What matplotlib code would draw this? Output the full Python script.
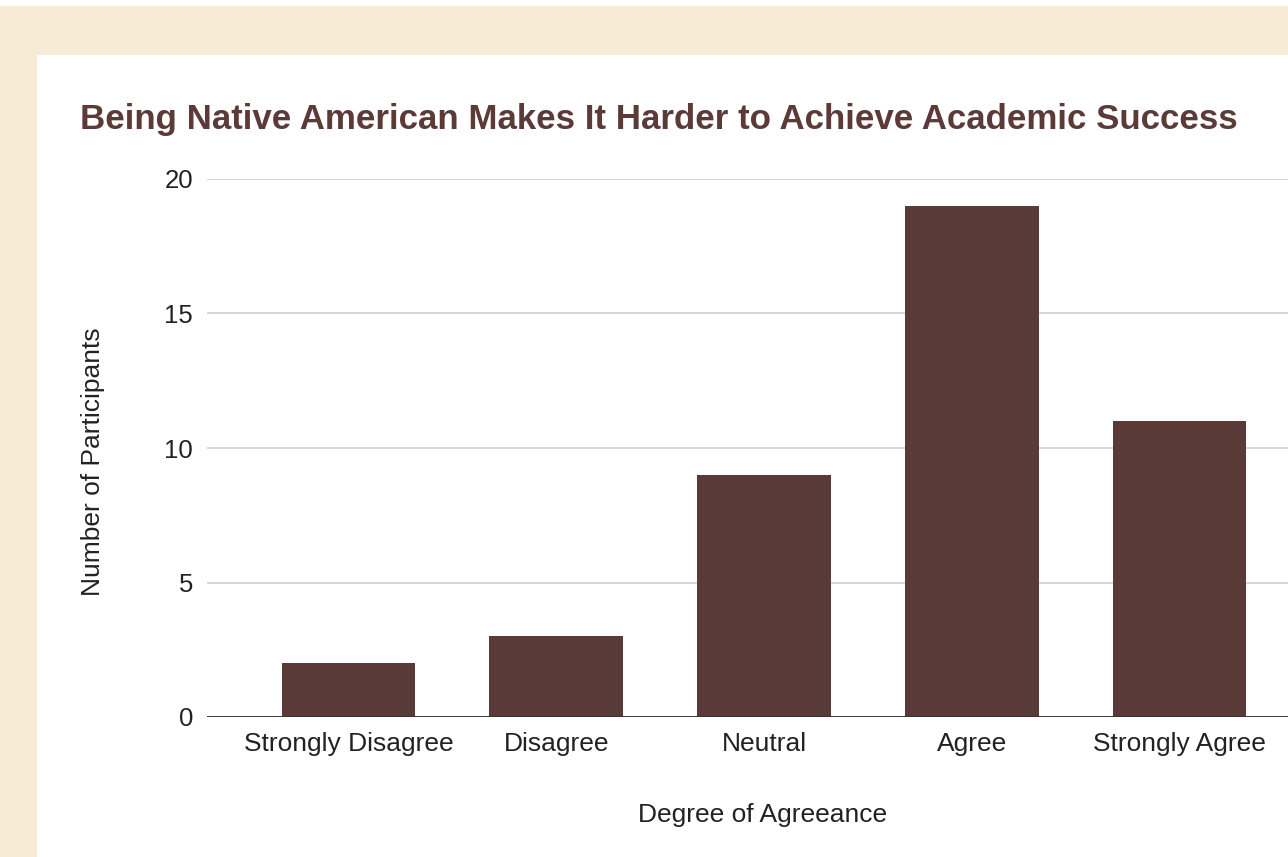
import matplotlib
matplotlib.use("Agg")
import matplotlib.pyplot as plt
from matplotlib.patches import Rectangle

categories = ["Strongly Disagree", "Disagree", "Neutral", "Agree", "Strongly Agree"]
participants = [2, 3, 9, 19, 11]
y_ticks = [0, 5, 10, 15, 20]

title = "Being Native American Makes It Harder to Achieve Academic Success"
x_label = "Degree of Agreeance"
y_label = "Number of Participants"

W, H = 1288, 857
plt.rcParams['font.family'] = ['Liberation Sans', 'DejaVu Sans']
fig = plt.figure(figsize=(W / 100, H / 100), dpi=100)
fig.patch.set_facecolor("#F8EBD6")

# top white strip and white chart panel
fig.add_artist(Rectangle((0, 1 - 6 / H), 1, 6 / H, transform=fig.transFigure,
                         facecolor="#FFFFFF", edgecolor="none", zorder=0))
fig.add_artist(Rectangle((37 / W, 0), 1 - 37 / W, 1 - 55 / H, transform=fig.transFigure,
                         facecolor="#FFFFFF", edgecolor="none", zorder=0))

ax_left = 207 / W
ax_bottom = 1 - 717 / H
ax_top = 1 - 179 / H
ax = fig.add_axes([ax_left, ax_bottom, 1 - ax_left, ax_top - ax_bottom])
ax.patch.set_alpha(0)

x = list(range(len(categories)))
ax.bar(x, participants, width=0.643, color="#5A3A36", zorder=3)

spacing = 207.75
ax.set_xlim((207 - 348.5) / spacing, (W - 348.5) / spacing)
ax.set_ylim(0, 20)
ax.set_yticks(y_ticks)
ax.set_yticklabels([str(v) for v in y_ticks])
ax.set_xticks(x)
ax.set_xticklabels(categories)

ax.grid(axis="y", color="#CCCCCC", linewidth=1.1, zorder=1)
ax.axhline(0, color="#333333", linewidth=1.3, zorder=4)
for s in ax.spines.values():
    s.set_visible(False)
ax.tick_params(axis="x", length=0, labelsize=19, labelcolor="#222222", pad=11)
ax.tick_params(axis="y", length=0, labelsize=18.5, labelcolor="#222222", pad=10)

fig.text(80 / W, 1 - 129 / H, title, fontsize=25.15, fontweight="bold",
         color="#5B3A37", ha="left", va="baseline")
fig.text(763 / W, 1 - 815 / H, x_label, fontsize=19, color="#222222",
         ha="center", va="center")
fig.text(93 / W, 1 - 462 / H, y_label, fontsize=19, color="#222222",
         ha="center", va="center", rotation=90)

fig.savefig("out.png", dpi=100, facecolor=fig.get_facecolor())
